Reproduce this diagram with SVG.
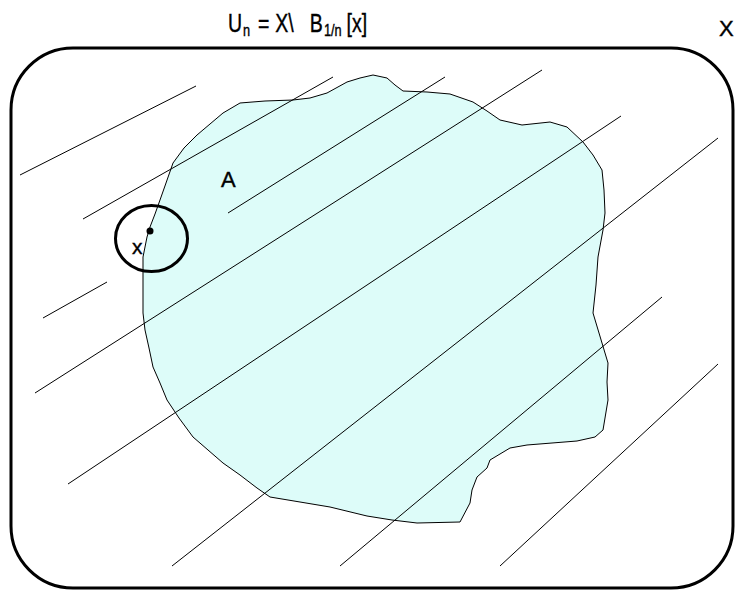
<svg xmlns="http://www.w3.org/2000/svg" width="739" height="590" viewBox="0 0 739 590">
<style>
.lbl{font-family:"Liberation Sans",Arial,sans-serif;fill:#000;stroke:#000;stroke-width:0.4}
.hatch line{stroke:#000;stroke-width:1}
</style>
<rect width="739" height="590" fill="#fff"/>
<g id="space-X">
<rect x="11" y="48" width="722" height="540" rx="62" ry="62" fill="none" stroke="#000" stroke-width="3"/>
<text class="lbl" x="719" y="36" font-size="22">X</text>
</g>
<g id="set-A">
<path d="M147,237 L150,227 L155,214 L160,200 L166,183 L173,163 L184,148 L197,135 L210,124 L223,113 L240,103 L265,101 L293,100 L310,98 L327,93 L347,82 L360,78 L373,75 L387,78 L395,85 L403,91 L427,92 L450,94 L473,102 L487,111 L500,120 L522,125 L550,122 L567,127 L583,142 L593,155 L602,170 L604,190 L605,213 L603,230 L598,257 L596,285 L593,313 L599,333 L605,353 L608,363 L607,382 L608,400 L603,430 L595,437 L577,441 L552,443 L527,445 L510,448 L490,460 L487,468 L477,477 L472,490 L470,503 L460,522 L417,523 L392,520 L367,516 L330,507 L300,502 L270,497 L257,488 L240,475 L223,463 L208,450 L193,437 L179,418 L167,400 L160,383 L153,367 L149,348 L145,330 L143,313 L143,285 L143,257 Z" fill="#ddfcf9" stroke="#000" stroke-width="1"/>
<text class="lbl" x="221" y="187" font-size="22">A</text>
</g>
<g id="hatch" class="hatch">
<line x1="20" y1="175" x2="196" y2="86"/>
<line x1="83" y1="219" x2="333" y2="77"/>
<line x1="228" y1="213" x2="445" y2="77"/>
<line x1="43" y1="318" x2="107" y2="282"/>
<line x1="35" y1="393" x2="542" y2="70"/>
<line x1="68" y1="484" x2="621" y2="116"/>
<line x1="172" y1="566" x2="718" y2="138"/>
<line x1="340" y1="566" x2="662" y2="297"/>
<line x1="500" y1="566" x2="718" y2="364"/>
</g>
<g id="ball">
<ellipse cx="151.5" cy="238.5" rx="36" ry="33" fill="none" stroke="#000" stroke-width="3"/>
<circle cx="150" cy="231" r="3.5" fill="#000"/>
<text class="lbl" x="132" y="254" font-size="21">x</text>
</g>
<g id="title">
<text class="lbl" transform="translate(228 32) scale(0.75 1)" font-size="26"><tspan x="0">U</tspan><tspan x="20" dy="4" font-size="17">n</tspan><tspan x="40" dy="-4">=</tspan><tspan x="63">X\</tspan><tspan x="109">B</tspan><tspan x="128" dy="4" font-size="17">1/n</tspan><tspan x="158" dy="-4">[x]</tspan></text>
</g>
</svg>
